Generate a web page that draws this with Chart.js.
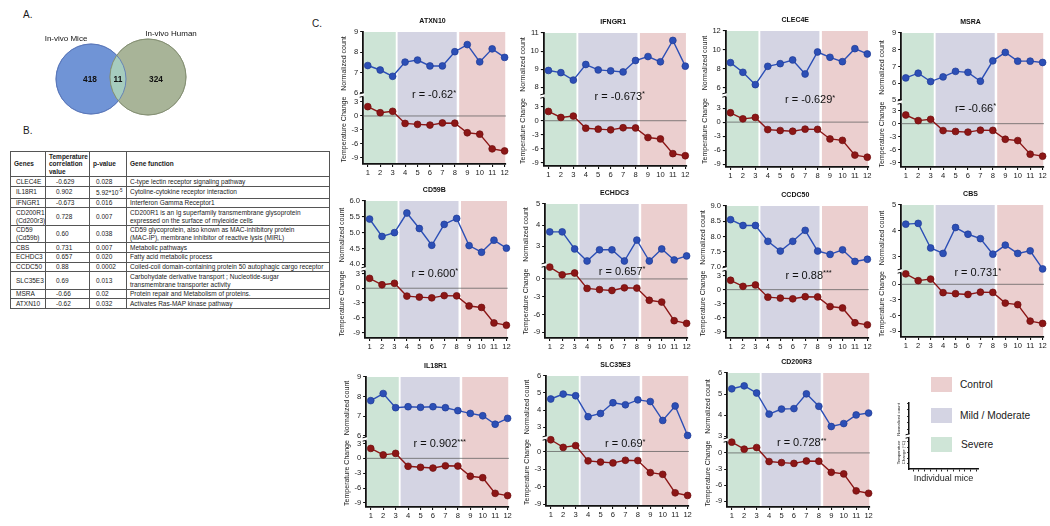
<!DOCTYPE html>
<html>
<head>
<meta charset="utf-8">
<title>Temperature-correlated genes</title>
<script src="https://cdn.jsdelivr.net/npm/chart.js@4.4.1/dist/chart.umd.min.js"></script>
<style>
  body { margin: 0; width: 1050px; height: 526px; background: #fff; position: relative; overflow: hidden;
         font-family: "Liberation Sans", Arial, Helvetica, sans-serif; color: #1a1a1a; }
  canvas, .lbl, .key, .keytxt, #tbl { position: absolute; }
  .lbl { font-size: 10px; }
  .key { width: 21px; height: 15px; left: 931px; }
  .keytxt { left: 960px; font-size: 10.2px; line-height: 15px; }
  #tbl { left: 10px; top: 151px; width: 319px; border-collapse: collapse; table-layout: fixed;
         font-size: 6.5px; line-height: 7.7px; }
  #tbl th, #tbl td { border: 1px solid #555; padding: 0.5px 3px; white-space: nowrap; vertical-align: middle; overflow: hidden; text-align: left; }
  #tbl th { font-weight: bold; }
  #tbl td.g { padding-left: 5px; }
  #tbl td.c { padding-left: 10px; }
  #tbl td.p { padding-left: 6px; }
  #tbl sup { font-size: 4.5px; }
</style>
</head>
<body>
<div class="lbl" style="left:23px;top:9px">A.</div>
<div class="lbl" style="left:23px;top:125px">B.</div>
<div class="lbl" style="left:312px;top:18px">C.</div>

<canvas id="venn" width="200" height="130" style="left:0;top:0"></canvas>

<table id="tbl">
  <colgroup><col style="width:35px"><col style="width:44px"><col style="width:37px"><col style="width:203px"></colgroup>
  <thead><tr><th>Genes</th><th>Temperature<br>correlation<br>value</th><th>p-value</th><th>Gene function</th></tr></thead>
  <tbody></tbody>
</table>

<div class="key" style="top:377px;background:#ebcfcf"></div>
<div class="keytxt" style="top:377px">Control</div>
<div class="key" style="top:408px;background:#d4d4e3"></div>
<div class="keytxt" style="top:408px">Mild / Moderate</div>
<div class="key" style="top:437px;background:#cfe5d7"></div>
<div class="keytxt" style="top:437px;left:961px">Severe</div>

<script>
// ---- data ----
const mice = [1, 2, 3, 4, 5, 6, 7, 8, 9, 10, 11, 12];
const tempChange = [2.0, 0.7, 1.0, -1.6, -1.8, -1.95, -1.5, -1.55, -3.6, -3.9, -7.05, -7.5];
const tempTicks = [3, 0, -3, -6, -9];

const genes = ['ATXN10', 'IFNGR1', 'CLEC4E', 'MSRA', 'CD59B', 'ECHDC3', 'CCDC50', 'CBS', 'IL18R1', 'SLC35E3', 'CD200R3'];
const rLabels = ['r = -0.62', 'r = -0.673', 'r = -0.629', 'r= -0.66', 'r = 0.600', 'r = 0.657', 'r = 0.88', 'r = 0.731', 'r = 0.902', 'r = 0.69', 'r = 0.728'];
const rStars = ['*', '*', '*', '*', '*', '*', '***', '*', '***', '*', '**'];

const atxn10 = [7.35, 7.13, 6.82, 7.52, 7.62, 7.33, 7.33, 8.03, 8.38, 7.53, 8.17, 7.75];
const ifngr1 = [8.93, 8.81, 8.4, 9.26, 8.96, 8.91, 8.85, 9.48, 9.7, 9.41, 10.59, 9.17];
const clec4e = [8.67, 7.65, 6.35, 8.28, 8.56, 8.95, 7.47, 9.79, 9.23, 8.77, 10.14, 9.58];
const msra = [6.32, 6.6, 6.1, 6.38, 6.71, 6.65, 6.12, 7.34, 7.84, 7.32, 7.32, 7.24];
const cd59b = [5.43, 4.88, 5.0, 5.62, 5.13, 4.6, 5.26, 5.45, 4.59, 4.38, 4.76, 4.51];
const echdc3 = [3.68, 3.68, 2.87, 2.3, 2.83, 2.83, 2.3, 3.29, 2.3, 2.87, 2.35, 2.54];
const ccdc50 = [8.55, 8.36, 8.36, 7.84, 7.52, 7.84, 8.2, 7.52, 7.41, 7.56, 7.18, 7.25];
const cbs = [4.26, 4.29, 3.34, 3.13, 4.13, 3.87, 3.70, 3.10, 3.45, 3.13, 3.23, 2.53];
const il18r1 = [7.8, 8.16, 7.44, 7.49, 7.46, 7.49, 7.44, 7.29, 7.15, 7.03, 6.6, 6.9];
const slc35e3 = [4.65, 4.94, 4.84, 3.61, 3.8, 4.43, 4.31, 4.6, 4.5, 3.39, 4.24, 2.51];
const cd200r3 = [5.25, 5.39, 5.05, 4.05, 4.29, 4.31, 5.01, 4.42, 3.46, 3.6, 4.01, 4.1];

const atxn10Ticks = [6, 7, 8, 9];
const ifngr1Ticks = [8, 9, 10, 11];
const clec4eTicks = [6, 8, 10, 12];
const msraTicks = [5, 6, 7, 8, 9];
const cd59bTicks = [4.0, 4.5, 5.0, 5.5, 6.0];
const echdc3Ticks = [3, 4, 5];
const ccdc50Ticks = [7.0, 7.5, 8.0, 8.5, 9.0];
const cbsTicks = [3, 4, 5];
const il18r1Ticks = [6, 7, 8, 9];
const slc35e3Ticks = [3, 4, 5, 6];
const cd200r3Ticks = [3, 4, 5, 6];

// disease groups shading (in mouse index units)
const groups = ['Severe', 'Mild / Moderate', 'Control'];
const groupStart = [0, 3.4, 8.35];
const groupEnd = [3.25, 8.15, 12.05];

// venn + table
const vennSets = ['In-vivo Mice', 'In-vivo Human'];
const vennOnly = [418, 324];
const vennShared = 11;

const tblGenes = ['CLEC4E', 'IL18R1', 'IFNGR1', 'CD200R1<br>(Cd200r3)', 'CD59<br>(Cd59b)', 'CBS', 'ECHDC3', 'CCDC50', 'SLC35E3', 'MSRA', 'ATXN10'];
const tblCorr = ['-0.629', '0.902', '-0.673', '0.728', '0.60', '0.731', '0.657', '0.88', '0.69', '-0.66', '-0.62'];
const tblP = ['0.028', '5.92*10<sup>-5</sup>', '0.016', '0.007', '0.038', '0.007', '0.020', '0.0002', '0.013', '0.02', '0.032'];
const tblFunc = [
  'C-type lectin receptor signaling pathway',
  'Cytoline-cytokine receptor interaction',
  'Interferon Gamma Receptor1',
  'CD200R1 is an Ig superfamily transmembrane glysoprotein<br>expressed on the surface of myleoide cells',
  'CD59 glycoprotein, also known as MAC-inhibitory protein<br>(MAC-IP), membrane inhibitor of reactive lysis (MIRL)',
  'Metabolic pathways',
  'Fatty acid metabolic process',
  'Coiled-coil domain-containing protein 50 autophagic cargo receptor',
  'Carbohydate derivative transport ; Nucleotide-sugar<br>transmembrane transporter activity',
  'Protein repair and Metabolism of proteins.',
  'Activates Ras-MAP kinase pathway'
];

// ---- styles ----
const FONT = '"Liberation Sans", Arial, Helvetica, sans-serif';
const BLUE = '#2c4fb6';
const BLUE_EDGE = '#1f3b95';
const RED = '#8c1616';
const RED_EDGE = '#6e0e0e';
const BAND = ['#cde4d6', '#d4d4e3', '#ebcfcf'];
const PLOT_W = 138;

// table
const tbody = document.querySelector('#tbl tbody');
tblGenes.forEach((g, i) => {
  const tr = document.createElement('tr');
  tr.innerHTML = '<td class="g">' + g + '</td><td class="c">' + tblCorr[i] + '</td><td class="p">' +
    tblP[i] + '</td><td>' + tblFunc[i] + '</td>';
  tbody.appendChild(tr);
});

// ---- venn ----
const vennPos = [{x: 91, y: 79, r: 35}, {x: 148, y: 77, r: 38}];
new Chart(document.getElementById('venn').getContext('2d'), {
  type: 'bubble',
  data: {
    datasets: [{
      data: vennPos,
      backgroundColor: ['#7094d6', '#a8b498'],
      borderColor: ['#5574b8', '#818d70'],
      borderWidth: 0.8,
      clip: false
    }]
  },
  options: {
    responsive: false, animation: false, events: [],
    layout: {padding: 0, autoPadding: false},
    plugins: {legend: {display: false}, tooltip: {enabled: false}},
    scales: {
      x: {type: 'linear', display: false, min: 0, max: 200},
      y: {type: 'linear', display: false, min: 0, max: 130, reverse: true}
    }
  },
  plugins: [{
    id: 'venn',
    afterDatasetsDraw(chart) {
      const ctx = chart.ctx;
      const [a, b] = chart.getDatasetMeta(0).data;
      const ra = a.options.radius, rb = b.options.radius;
      ctx.save();
      ctx.beginPath(); ctx.arc(a.x, a.y, ra, 0, Math.PI * 2); ctx.clip();
      ctx.beginPath(); ctx.arc(b.x, b.y, rb, 0, Math.PI * 2);
      ctx.fillStyle = '#a6ccbe'; ctx.fill();
      ctx.restore();
      ctx.save();
      ctx.lineWidth = 0.8;
      ctx.strokeStyle = '#5574b8';
      ctx.beginPath(); ctx.arc(a.x, a.y, ra, 0, Math.PI * 2); ctx.stroke();
      ctx.strokeStyle = '#818d70';
      ctx.beginPath(); ctx.arc(b.x, b.y, rb, 0, Math.PI * 2); ctx.stroke();
      ctx.fillStyle = '#111';
      ctx.textAlign = 'center'; ctx.textBaseline = 'middle';
      ctx.font = 'bold 8.3px ' + FONT;
      ctx.fillText(String(vennOnly[0]), a.x - 1, a.y + 1);
      ctx.fillText(String(vennOnly[1]), b.x + 8, a.y + 1);
      ctx.fillText(String(vennShared), ((b.x - rb) + (a.x + ra)) / 2, a.y + 1);
      ctx.font = '8px ' + FONT;
      ctx.fillText(vennSets[0], a.x - 25, a.y - ra - 5);
      ctx.fillText(vennSets[1], b.x + 23, b.y - rb - 5);
      ctx.restore();
    }
  }]
});

// ---- panel helpers ----
const axisBreak = {
  id: 'axisBreak',
  afterDraw(chart) {
    const {ctx, chartArea: a, scales} = chart;
    const yb = scales.yt.top;
    ctx.save();
    ctx.fillStyle = '#fff';
    ctx.fillRect(a.left - 5, yb - 1.8, 6, 3.6);
    ctx.strokeStyle = '#111';
    ctx.lineWidth = 1;
    ctx.beginPath();
    ctx.moveTo(a.left - 3.5, yb - 1.2); ctx.lineTo(a.left + 0.5, yb - 2.2);
    ctx.moveTo(a.left - 3.5, yb + 2.2); ctx.lineTo(a.left + 0.5, yb + 1.2);
    ctx.stroke();
    ctx.restore();
  }
};

const panelDeco = {
  id: 'panelDeco',
  beforeDraw(chart) {
    const {ctx, chartArea: a, scales: {x}} = chart;
    ctx.save();
    groupStart.forEach((s, i) => {
      const l = Math.max(a.left + 1, x.getPixelForValue(s));
      const r = Math.min(a.right, x.getPixelForValue(groupEnd[i]));
      ctx.fillStyle = BAND[i];
      ctx.fillRect(l, a.top, r - l, a.bottom - a.top - 1);
    });
    ctx.restore();
  },
  beforeDatasetsDraw(chart) {
    const {ctx, chartArea: a, scales: {yt}} = chart;
    const y0 = yt.getPixelForValue(0);
    ctx.save();
    ctx.strokeStyle = 'rgba(95,95,95,0.85)';
    ctx.lineWidth = 0.9;
    ctx.beginPath(); ctx.moveTo(a.left, y0); ctx.lineTo(a.right, y0); ctx.stroke();
    ctx.restore();
  },
  afterDraw(chart, args, o) {
    const {ctx, chartArea: a, scales: {x, yt}} = chart;
    ctx.save();
    ctx.fillStyle = '#111';
    ctx.textAlign = 'center'; ctx.textBaseline = 'middle';
    ctx.font = 'bold 7px ' + FONT;
    ctx.fillText(o.title, (a.left + a.right) / 2 - 2, a.top - 11);
    ctx.textAlign = 'left';
    ctx.font = '11px ' + FONT;
    const tx = x.getPixelForValue(o.rx), ty = yt.getPixelForValue(o.ry);
    ctx.fillText(o.r, tx, ty);
    const w = ctx.measureText(o.r).width;
    ctx.font = '7.5px ' + FONT;
    ctx.fillText(o.stars, tx + w, ty - 2.5);
    ctx.restore();
  }
};

function fitPlot(chart, cv, left, top, w, h) {
  const a = chart.chartArea;
  const pad = chart.config.options.layout.padding;
  pad.right = Math.max(0, (a.right - a.left) - w);
  pad.bottom = Math.max(0, (a.bottom - a.top) - h);
  chart.update('none');
  const b = chart.chartArea;
  cv.style.left = (left - b.left) + 'px';
  cv.style.top = (top - b.top) + 'px';
}

function axisStyle() {
  return {
    grid: {drawOnChartArea: false, tickLength: 3, color: '#111', lineWidth: 1.1},
    border: {color: '#111', width: 1.8}
  };
}

function makePanel(p) {
  const cv = document.createElement('canvas');
  cv.width = PLOT_W + 80;
  cv.height = p.h + 70;
  document.body.appendChild(cv);
  const tickFont = {size: 7.6, family: FONT};
  const titleFont = {size: 7, family: FONT};
  const chart = new Chart(cv.getContext('2d'), {
    type: 'line',
    data: {
      datasets: [{
        data: mice.map((m, i) => ({x: m, y: p.counts[i]})),
        yAxisID: 'yc',
        borderColor: BLUE, backgroundColor: BLUE, borderWidth: 1.4,
        pointRadius: 3.4, pointBorderColor: BLUE_EDGE, pointBorderWidth: 0.7,
        tension: 0, clip: false
      }, {
        data: mice.map((m, i) => ({x: m, y: tempChange[i]})),
        yAxisID: 'yt',
        borderColor: RED, backgroundColor: RED, borderWidth: 1.4,
        pointRadius: 3.4, pointBorderColor: RED_EDGE, pointBorderWidth: 0.7,
        tension: 0, clip: false
      }]
    },
    options: {
      responsive: false, animation: false, events: [],
      layout: {padding: {top: 24, right: 0, bottom: 0, left: 0}},
      plugins: {
        legend: {display: false}, tooltip: {enabled: false},
        panelDeco: {title: p.title, r: p.r, stars: p.stars, rx: p.rx, ry: p.ry}
      },
      scales: {
        x: Object.assign(axisStyle(), {
          type: 'linear', min: 0.63, max: 12.1,
          afterBuildTicks: s => { s.ticks = mice.map(v => ({value: v})); },
          afterFit: s => { s.height = 15; },
          ticks: {font: tickFont, color: '#222', padding: 1.5, maxRotation: 0, autoSkip: false}
        }),
        yt: Object.assign(axisStyle(), {
          axis: 'y', type: 'linear', position: 'left', stack: 'mice', stackWeight: p.wBot,
          min: p.tMin, max: p.tMax,
          afterBuildTicks: s => { s.ticks = tempTicks.filter(v => v >= s.min && v <= s.max).map(v => ({value: v})); },
          ticks: {font: tickFont, color: '#222', padding: 2, autoSkip: false},
          title: {display: true, text: 'Temperature Change', font: titleFont, color: '#222', padding: 1}
        }),
        yc: Object.assign(axisStyle(), {
          axis: 'y', type: 'linear', position: 'left', stack: 'mice', stackWeight: p.wTop,
          min: p.cMin, max: p.cMax,
          afterBuildTicks: s => { s.ticks = p.ticks.map(v => ({value: v})); },
          ticks: {font: tickFont, color: '#222', padding: 2, autoSkip: false,
                  callback: v => p.dec ? v.toFixed(1) : String(v)},
          title: {display: true, text: 'Normalized count', font: titleFont, color: '#222', padding: 1}
        })
      }
    },
    plugins: [panelDeco, axisBreak]
  });
  fitPlot(chart, cv, p.ax, p.top, PLOT_W, p.h);
}

// panel layout (positions and axis ranges)
const panelSpec = [
  {counts: atxn10, ticks: atxn10Ticks, ax: 363, top: 32, h: 132, cMin: 5.9, cMax: 9, tMin: -10.3, tMax: 4.5, wTop: 63, wBot: 69, rx: 4.55, ry: 4.5},
  {counts: ifngr1, ticks: ifngr1Ticks, ax: 544, top: 33, h: 133, cMin: 7.52, cMax: 11, tMin: -9.7, tMax: 5.3, wTop: 63, wBot: 70, rx: 4.71, ry: 5.1},
  {counts: clec4e, ticks: clec4eTicks, ax: 726, top: 31, h: 136, cMin: 5.26, cMax: 12, tMin: -9.6, tMax: 5.8, wTop: 64, wBot: 72, rx: 5.38, ry: 4.7},
  {counts: msra, ticks: msraTicks, ax: 901, top: 33, h: 134, cMin: 4.88, cMax: 9, tMin: -10.0, tMax: 5.0, wTop: 69, wBot: 65, rx: 4.96, ry: 3.4},
  {counts: cd59b, ticks: cd59bTicks, ax: 365, top: 201, h: 137, cMin: 3.85, cMax: 6, tMin: -10.1, tMax: 3.9, wTop: 68, wBot: 69, rx: 4.38, ry: 2.9, dec: true},
  {counts: echdc3, ticks: echdc3Ticks, ax: 545, top: 204, h: 134, cMin: 2.11, cMax: 5, tMin: -9.97, tMax: 2.35, wTop: 61, wBot: 73, rx: 4.94, ry: 1.2},
  {counts: ccdc50, ticks: ccdc50Ticks, ax: 726, top: 206, h: 132, cMin: 6.93, cMax: 9, tMin: -10.3, tMax: 4.4, wTop: 63, wBot: 69, rx: 5.41, ry: 3.0, dec: true},
  {counts: cbs, ticks: cbsTicks, ax: 901, top: 205, h: 132, cMin: 2.45, cMax: 5, tMin: -10.1, tMax: 2.55, wTop: 66, wBot: 66, rx: 4.91, ry: 2.1},
  {counts: il18r1, ticks: il18r1Ticks, ax: 366, top: 377, h: 130, cMin: 5.85, cMax: 9, tMin: -9.8, tMax: 3.9, wTop: 62, wBot: 68, rx: 4.44, ry: 2.9},
  {counts: slc35e3, ticks: slc35e3Ticks, ax: 546, top: 376, h: 130, cMin: 2.36, cMax: 6, tMin: -9.3, tMax: 2.3, wTop: 62, wBot: 68, rx: 5.36, ry: 1.26},
  {counts: cd200r3, ticks: cd200r3Ticks, ax: 727, top: 373, h: 134, cMin: 2.82, cMax: 6, tMin: -10.05, tMax: 2.4, wTop: 67, wBot: 67, rx: 4.63, ry: 1.8}
];

panelSpec.forEach((p, i) => {
  makePanel(Object.assign({title: genes[i], r: rLabels[i], stars: rStars[i]}, p));
});

// ---- schematic axes for the key ----
(function () {
  const cv = document.createElement('canvas');
  cv.width = 130; cv.height = 110;
  document.body.appendChild(cv);
  const tiny = {size: 4.2, family: FONT};
  const chart = new Chart(cv.getContext('2d'), {
    type: 'line',
    data: {datasets: [{data: [], yAxisID: 'yc'}, {data: [], yAxisID: 'yt'}]},
    options: {
      responsive: false, animation: false, events: [],
      layout: {padding: {top: 6, right: 0, bottom: 0, left: 0}},
      plugins: {legend: {display: false}, tooltip: {enabled: false}},
      scales: {
        x: {
          type: 'linear', min: 0.3, max: 12.3,
          afterBuildTicks: s => { s.ticks = mice.map(v => ({value: v})); },
          ticks: {display: false},
          grid: {drawOnChartArea: false, tickLength: 2.5, color: '#111', lineWidth: 0.9},
          border: {color: '#111', width: 1.5},
          title: {display: true, text: 'Individual mice', font: {size: 9, family: FONT}, color: '#222', padding: {top: 2, bottom: 0}}
        },
        yt: {
          axis: 'y', type: 'linear', position: 'left', stack: 'k', stackWeight: 33, min: 0, max: 6,
          afterBuildTicks: s => { s.ticks = [1, 2, 3, 4, 5, 6].map(v => ({value: v})); },
          ticks: {display: false},
          grid: {drawOnChartArea: false, tickLength: 2, color: '#111', lineWidth: 0.9},
          border: {color: '#111', width: 1.5},
          title: {display: true, text: ['Temperature', 'Change (\u00b0C)'], font: tiny, color: '#222', padding: 1}
        },
        yc: {
          axis: 'y', type: 'linear', position: 'left', stack: 'k', stackWeight: 33, min: 0, max: 5,
          afterBuildTicks: s => { s.ticks = [1, 2, 3, 4, 5].map(v => ({value: v})); },
          ticks: {display: false},
          grid: {drawOnChartArea: false, tickLength: 2, color: '#111', lineWidth: 0.9},
          border: {color: '#111', width: 1.5},
          title: {display: true, text: 'Normalized count', font: tiny, color: '#222', padding: 1}
        }
      }
    },
    plugins: [axisBreak]
  });
  fitPlot(chart, cv, 909, 403, 69, 66);
})();
</script>
</body>
</html>
